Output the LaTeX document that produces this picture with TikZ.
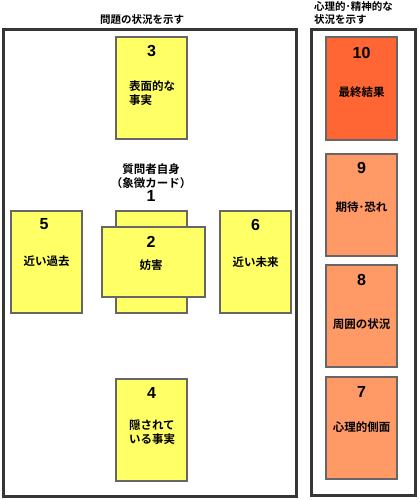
\documentclass[tikz,border=0pt]{standalone}
\usepackage{fontspec}
\newfontfamily\jp{Noto Sans CJK JP Bold}
\newfontfamily\num{Liberation Sans Bold}
\definecolor{cardyellow}{HTML}{FFFF66}
\definecolor{cardred}{HTML}{FF6633}
\definecolor{cardorange}{HTML}{FF9966}
\definecolor{cardedge}{HTML}{666666}
\definecolor{frameedge}{HTML}{363636}
\tikzset{
  card/.style={draw=cardedge, line width=2pt, minimum width=71pt, minimum height=102pt, inner sep=0pt},
  wide/.style={draw=cardedge, line width=2pt, minimum width=103pt, minimum height=70pt, inner sep=0pt},
  frame/.style={draw=frameedge, line width=3pt},
  numlbl/.style={font=\num\fontsize{16}{16}\selectfont, inner sep=0pt},
  jptxt/.style={font=\jp\fontsize{11.5}{14}\selectfont, inner sep=0pt, align=left},
  title/.style={font=\jp\fontsize{10.5}{13.5}\selectfont, inner sep=0pt, align=left}
}
\begin{document}
\begin{tikzpicture}[x=1pt,y=-1pt]
\useasboundingbox (0,0) rectangle (418,500);
% frames
\draw[frame] (3,30) rectangle (296,496);
\draw[frame] (311,30) rectangle (415,495);
\node[title] (t1) at (142,20) {問題の状況を示す};
\node[title, anchor=west] (t2) at (314,13) {心理的･精神的な\\状況を示す};
% left cards
\node[card, fill=cardyellow] (c3) at (151.5,88) {};
\node[numlbl] (n3) at (151.5,51) {3};
\node[jptxt] (l3) at (152,93) {表面的な\\事実};

\node[jptxt, align=center] (q1) at (151,176) {質問者自身\\（象徴カード）};
\node[numlbl] (n1) at (151,196) {1};

\node[card, fill=cardyellow] (c1) at (151,261.5) {};
\node[wide, fill=cardyellow] (c2) at (153.5,262) {};
\node[numlbl] (n2) at (151,242) {2};
\node[jptxt] (l2) at (151,265) {妨害};

\node[card, fill=cardyellow] (c5) at (46.5,261.5) {};
\node[numlbl] (n5) at (44,224) {5};
\node[jptxt] (l5) at (46.5,261) {近い過去};

\node[card, fill=cardyellow] (c6) at (255.5,261.5) {};
\node[numlbl] (n6) at (255.5,225) {6};
\node[jptxt] (l6) at (255.5,262) {近い未来};

\node[card, fill=cardyellow] (c4) at (151.5,429.5) {};
\node[numlbl] (n4) at (151.5,393) {4};
\node[jptxt] (l4) at (152,432) {隠されて\\いる事実};

% right cards
\node[card, fill=cardred] (c10) at (361.5,88.5) {};
\node[numlbl] (n10) at (361.5,53) {10};
\node[jptxt] (l10) at (361.5,92) {最終結果};

\node[card, fill=cardorange] (c9) at (361.5,204.5) {};
\node[numlbl] (n9) at (361.5,168) {9};
\node[jptxt] (l9) at (361.5,207) {期待･恐れ};

\node[card, fill=cardorange] (c8) at (361.5,315.5) {};
\node[numlbl] (n8) at (361.5,280) {8};
\node[jptxt] (l8) at (361.5,324) {周囲の状況};

\node[card, fill=cardorange] (c7) at (361.5,428) {};
\node[numlbl] (n7) at (361.5,392) {7};
\node[jptxt] (l7) at (361.5,427) {心理的側面};
\end{tikzpicture}
\end{document}
